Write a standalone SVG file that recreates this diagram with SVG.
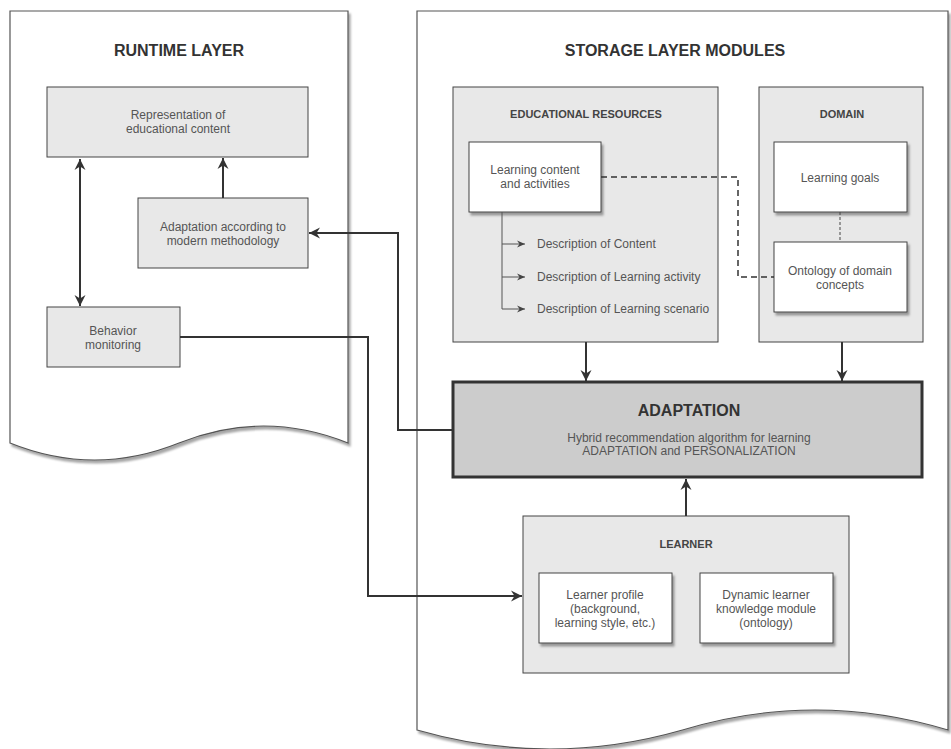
<svg xmlns="http://www.w3.org/2000/svg" width="951" height="749" viewBox="0 0 951 749">
<defs>
<style>
text{font-family:"Liberation Sans",Arial,sans-serif;text-anchor:middle}
.t{font-size:12px;fill:#555}
.h{font-size:16px;font-weight:bold;fill:#333}
.h2{font-size:11px;font-weight:bold;fill:#444}
.layer{fill:#fff;stroke:#555;stroke-width:1.2}
.g{fill:#e8e8e8;stroke:#444;stroke-width:1}
.w{fill:#fff;stroke:#444;stroke-width:1}
.c{fill:none;stroke:#333;stroke-width:2}
.ct{fill:none;stroke:#555;stroke-width:1}
.d{fill:none;stroke:#333;stroke-width:1.5;stroke-dasharray:6,4}
.dot{fill:none;stroke:#444;stroke-width:1;stroke-dasharray:3,2}
</style>
<filter id="sh" x="-5%" y="-5%" width="115%" height="115%">
<feDropShadow dx="2" dy="3" stdDeviation="0.8" flood-color="#000" flood-opacity="0.35"/>
</filter>
<marker id="a" viewBox="-11 -6 12 12" markerWidth="12" markerHeight="12" refX="0" refY="0" orient="auto-start-reverse" markerUnits="userSpaceOnUse">
<path d="M-11,-5.5 L0,0 L-11,5.5 L-7.5,0 Z" fill="#333"/>
</marker>
<marker id="s" viewBox="-9 -5 10 10" markerWidth="10" markerHeight="10" refX="0" refY="0" orient="auto" markerUnits="userSpaceOnUse">
<path d="M-8,-3.5 L0,0 L-8,3.5 L-5.5,0 Z" fill="#444"/>
</marker>
</defs>

<g id="runtime-layer">
<path class="layer" filter="url(#sh)" d="M10,11 H348 V443 Q263.5,409 179,443 Q94.5,477 10,443 Z"/>
<text class="h" x="179" y="56">RUNTIME LAYER</text>
</g>

<g id="storage-layer">
<path class="layer" filter="url(#sh)" d="M417,11 H948 V730 Q815,690 682.5,730 Q550,768 417,730 Z"/>
<text class="h" x="675" y="56">STORAGE LAYER MODULES</text>
</g>

<g id="representation">
<rect class="g" x="47" y="87" width="261" height="70"/>
<text class="t" x="178" y="119">Representation of</text>
<text class="t" x="178" y="133">educational content</text>
</g>

<g id="adaptation-methodology">
<rect class="g" x="138" y="198" width="170" height="70"/>
<text class="t" x="223" y="231">Adaptation according to</text>
<text class="t" x="223" y="245">modern methodology</text>
</g>

<g id="behavior-monitoring">
<rect class="g" x="47" y="307" width="133" height="60"/>
<text class="t" x="113" y="335">Behavior</text>
<text class="t" x="113" y="349">monitoring</text>
</g>

<g id="educational-resources">
<rect class="g" x="453" y="87" width="265" height="255"/>
<text class="h2" x="586" y="118">EDUCATIONAL RESOURCES</text>
</g>

<g id="learning-content">
<rect class="w" filter="url(#sh)" x="469" y="142" width="132" height="70"/>
<text class="t" x="535" y="174">Learning content</text>
<text class="t" x="535" y="188">and activities</text>
</g>

<g id="descriptions">
<text class="t" x="537" y="248" style="text-anchor:start">Description of Content</text>
<text class="t" x="537" y="281" style="text-anchor:start">Description of Learning activity</text>
<text class="t" x="537" y="313" style="text-anchor:start">Description of Learning scenario</text>
</g>

<g id="domain">
<rect class="g" x="759" y="87" width="164" height="255"/>
<text class="h2" x="842" y="118">DOMAIN</text>
</g>

<g id="learning-goals">
<rect class="w" filter="url(#sh)" x="774" y="142" width="133" height="70"/>
<text class="t" x="840" y="182">Learning goals</text>
</g>

<g id="ontology">
<rect class="w" filter="url(#sh)" x="774" y="242" width="133" height="70"/>
<text class="t" x="840" y="275">Ontology of domain</text>
<text class="t" x="840" y="289">concepts</text>
</g>

<g id="adaptation">
<rect x="453" y="382" width="469" height="95" fill="#cccccc" stroke="#333" stroke-width="3"/>
<text class="h" x="689" y="416">ADAPTATION</text>
<text class="t" x="689" y="442">Hybrid recommendation algorithm for learning</text>
<text class="t" x="689" y="455">ADAPTATION and PERSONALIZATION</text>
</g>

<g id="learner">
<rect class="g" x="523" y="516" width="326" height="157"/>
<text class="h2" x="686" y="548">LEARNER</text>
</g>

<g id="learner-profile">
<rect class="w" filter="url(#sh)" x="539" y="573" width="133" height="70"/>
<text class="t" x="605" y="599">Learner profile</text>
<text class="t" x="605" y="613">(background,</text>
<text class="t" x="605" y="627">learning style, etc.)</text>
</g>

<g id="dynamic-learner">
<rect class="w" filter="url(#sh)" x="700" y="573" width="133" height="70"/>
<text class="t" x="766" y="599">Dynamic learner</text>
<text class="t" x="766" y="613">knowledge module</text>
<text class="t" x="766" y="627">(ontology)</text>
</g>

<g id="connectors">
<path class="c" d="M223,198 V158" marker-end="url(#a)"/>
<path class="c" d="M80,159 V306" marker-start="url(#a)" marker-end="url(#a)"/>
<path class="c" d="M453,430 H398 V233 H309" marker-end="url(#a)"/>
<path class="c" d="M180,337 H368 V596 H522" marker-end="url(#a)"/>
<path class="c" d="M586,342 V381" marker-end="url(#a)"/>
<path class="c" d="M842,342 V381" marker-end="url(#a)"/>
<path class="c" d="M686,516 V479" marker-end="url(#a)"/>
<path class="d" d="M601,177 H738 V277 H774"/>
<path class="dot" d="M840,212 V242"/>
<path class="ct" d="M502,212 V309"/>
<path class="ct" d="M502,244 H525" marker-end="url(#s)"/>
<path class="ct" d="M502,277 H525" marker-end="url(#s)"/>
<path class="ct" d="M502,309 H525" marker-end="url(#s)"/>
</g>
</svg>
